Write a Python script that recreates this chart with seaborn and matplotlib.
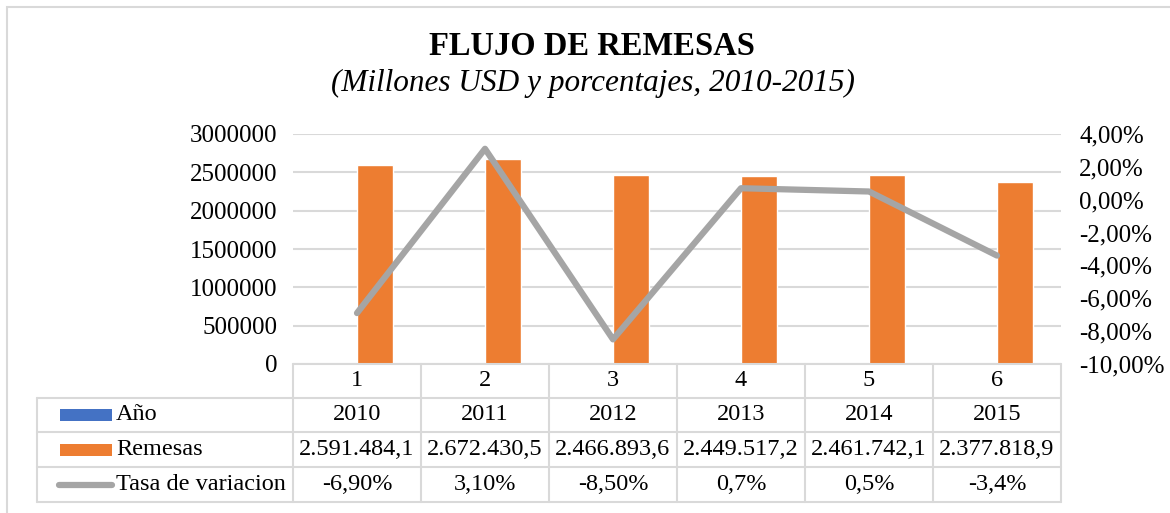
import pandas as pd
import numpy as np
import seaborn as sns
import matplotlib.pyplot as plt
from matplotlib.lines import Line2D
from matplotlib.patches import Rectangle

# datos
categorias = ['1', '2', '3', '4', '5', '6']
anios = [2010, 2011, 2012, 2013, 2014, 2015]
remesas = [2591484.1, 2672430.5, 2466893.6, 2449517.2, 2461742.1, 2377818.9]
tasa = [-6.90, 3.10, -8.50, 0.7, 0.5, -3.4]
anios_txt = ['2010', '2011', '2012', '2013', '2014', '2015']
remesas_txt = ['2.591.484,1', '2.672.430,5', '2.466.893,6', '2.449.517,2', '2.461.742,1', '2.377.818,9']
tasa_txt = ['-6,90%', '3,10%', '-8,50%', '0,7%', '0,5%', '-3,4%']

sns.set_style('white')
plt.rcParams['font.family'] = ['Liberation Serif', 'DejaVu Serif']
plt.rcParams['text.color'] = 'black'
plt.rcParams['ytick.color'] = 'black'

AZUL = '#4472C4'
NARANJA = '#ED7D31'
GRIS = '#A5A5A5'
LINEA = '#D9D9D9'

W, H = 1170, 513
fig = plt.figure(figsize=(W / 100, H / 100), dpi=100)

def fx(px):
    return px / W

def fy(py):
    return 1 - py / H

x0, x1, y0, y1 = 293, 1061, 134, 364
ax = fig.add_axes([fx(x0), fy(y1), fx(x1) - fx(x0), fy(y0) - fy(y1)])

df = pd.DataFrame({
    'cat': categorias * 2,
    'serie': ['Año'] * 6 + ['Remesas'] * 6,
    'valor': anios + remesas,
})
sns.barplot(data=df, x='cat', y='valor', hue='serie', palette=[AZUL, NARANJA],
            width=0.56, dodge=True, ax=ax, legend=False, saturation=1)
ax.set_xlim(-0.5, 5.5)
ax.set_ylim(0, 3000000)
ax.set_yticks(np.arange(0, 3000001, 500000))
ax.set_yticklabels([str(v) for v in range(0, 3000001, 500000)])
ax.yaxis.grid(True, color=LINEA, linewidth=1.5)
ax.set_axisbelow(True)
ax.set_xlabel('')
ax.set_ylabel('')
ax.set_xticks([])
for s in ax.spines.values():
    s.set_visible(False)
ax.tick_params(axis='y', length=0, pad=11, labelsize=18)

ax2 = ax.twinx()
sns.lineplot(x=np.arange(6), y=tasa, color=GRIS, linewidth=4.5, ax=ax2)
ax2.set_ylim(-10, 4)
ax2.set_yticks(np.arange(-10, 5, 2))
ax2.set_yticklabels([f'{v:.2f}%'.replace('.', ',') for v in np.arange(-10, 5, 2)])
ax2.tick_params(axis='y', length=0, pad=13, labelsize=18)
for s in ax2.spines.values():
    s.set_visible(False)
ax2.set_xlim(-0.5, 5.5)

# titulo
fig.text(fx(592), fy(47), 'FLUJO DE REMESAS', ha='center', va='center',
         fontsize=23.5, fontweight='bold')
fig.text(fx(593), fy(83), '(Millones USD y porcentajes, 2010-2015)', ha='center',
         va='center', fontsize=22.5, style='italic')

# tabla de datos
lw = 1.5
rows_y = [364, 398, 432, 467, 502]
lab_x = 37
cw = (x1 - x0) / 6
fig.add_artist(Line2D([fx(x0), fx(x1)], [fy(364), fy(364)], color=LINEA, lw=lw))
for yy in rows_y[1:]:
    fig.add_artist(Line2D([fx(lab_x), fx(x1)], [fy(yy), fy(yy)], color=LINEA, lw=lw))
fig.add_artist(Line2D([fx(lab_x), fx(lab_x)], [fy(398), fy(502)], color=LINEA, lw=lw))
for i in range(7):
    xx = x0 + i * cw
    fig.add_artist(Line2D([fx(xx), fx(xx)], [fy(364), fy(502)], color=LINEA, lw=lw))

filas = [categorias, anios_txt, remesas_txt, tasa_txt]
for r, fila in enumerate(filas):
    yc = (rows_y[r] + rows_y[r + 1]) / 2
    for i, t in enumerate(fila):
        fig.text(fx(x0 + (i + 0.5) * cw), fy(yc), t, ha='center', va='center', fontsize=17.5)

etiquetas = ['Año', 'Remesas', 'Tasa de variacion']
for r, (et, col) in enumerate(zip(etiquetas, [AZUL, NARANJA, GRIS])):
    yc = (rows_y[r + 1] + rows_y[r + 2]) / 2
    if r < 2:
        fig.add_artist(Rectangle((fx(60), fy(yc + 6)), fx(52), fy(yc - 6) - fy(yc + 6),
                                 color=col, lw=0))
    else:
        fig.add_artist(Line2D([fx(59), fx(112)], [fy(yc), fy(yc)], color=col, lw=4.5,
                              solid_capstyle='round'))
    fig.text(fx(116), fy(yc), et, ha='left', va='center', fontsize=17.5)

# borde
fig.add_artist(Rectangle((fx(7), fy(H + 10)), fx(W + 10), fy(7) - fy(H + 10),
                         fill=False, edgecolor=LINEA, lw=1.5))

fig.savefig('out.png', dpi=100)
